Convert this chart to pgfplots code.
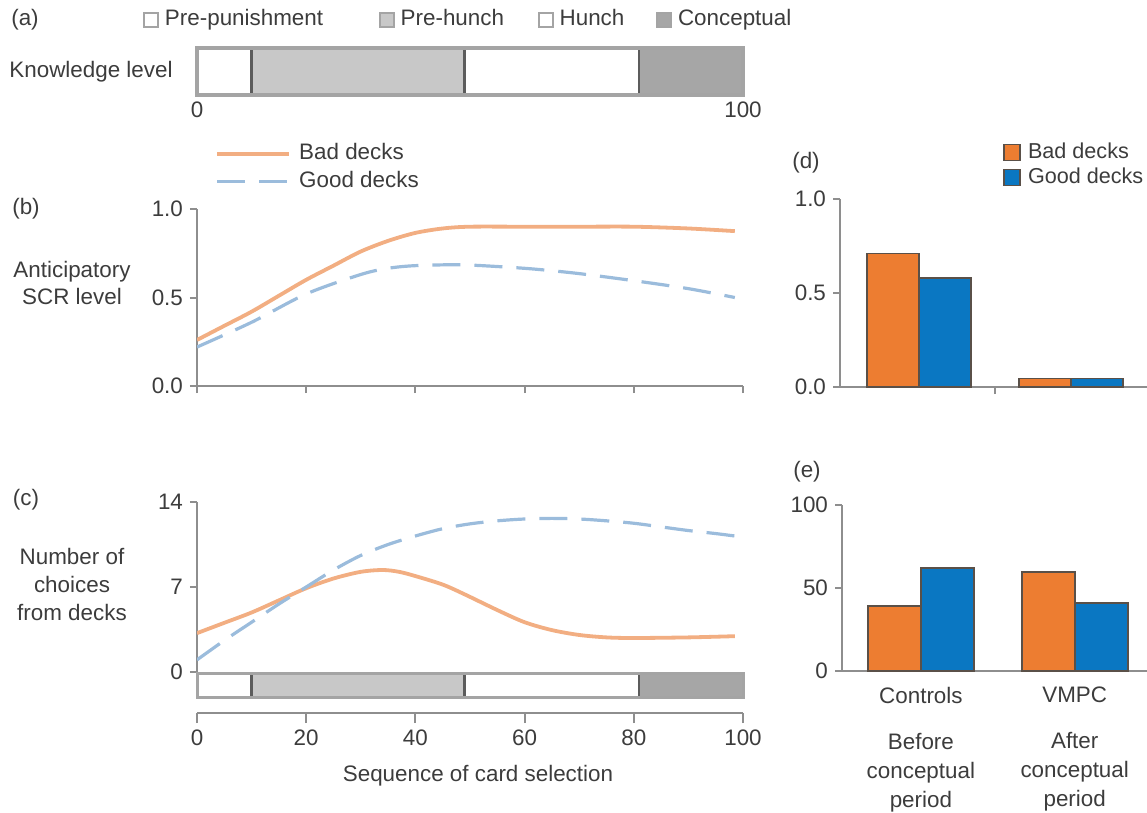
\documentclass[border=0pt]{standalone}
\usepackage{pgfplots}
\pgfplotsset{compat=1.18}
\usepackage{fontspec}
\setmainfont{Liberation Sans}
\definecolor{txt}{HTML}{3C3C3C}
\definecolor{axisgray}{HTML}{8E8E8E}
\definecolor{badline}{HTML}{F2AE82}
\definecolor{goodline}{HTML}{9BBCDC}
\definecolor{badbar}{HTML}{ED7D31}
\definecolor{goodbar}{HTML}{0A77C2}
\definecolor{baredge}{HTML}{5A5048}
\definecolor{klone}{HTML}{C8C8C8}
\definecolor{kltwo}{HTML}{A6A6A6}
\definecolor{klborder}{HTML}{A4A4A4}
\definecolor{kldiv}{HTML}{5C5C5C}
\newcommand\fs{\fontsize{11.2}{13.5}\selectfont}
\pgfplotsset{
  common/.style={scale only axis, font=\fs,
    /pgf/number format/assume math mode=true,
    tick label style={text=txt, font=\fs},
    label style={text=txt, font=\fs},
    axis line style={axisgray, line width=1pt},
    tick style={axisgray, line width=1pt},
    major tick length=3.5pt, tick align=outside},
  klbar/.style={scale only axis, xbar stacked, bar width=1,
    /pgf/number format/assume math mode=true,
    ymin=-0.5, ymax=0.5, xmin=0, xmax=100, axis on top,
    ytick=\empty, major tick length=0pt,
    tick label style={text=txt, font=\fs}},
  badstyle/.style={badline, line width=1.9pt, smooth},
  goodstyle/.style={goodline, line width=1.6pt, smooth, dash pattern=on 14pt off 7pt},
}
\begin{document}
\begin{tikzpicture}[x=0.5pt,y=-0.5pt]
\useasboundingbox (0,0) rectangle (1147,813);
\coordinate (a0) at (197,95);
\coordinate (b0) at (197,386);
\coordinate (c0) at (197,672);
\coordinate (k0) at (197,697);
\coordinate (x0) at (197,713);
\coordinate (d0) at (840,387);
\coordinate (e0) at (842,671);

% ---------- (a) knowledge level ----------
\begin{axis}[klbar, at={(a0)}, anchor=south west, width=273pt, height=23.5pt,
  axis line style={klborder, line width=2pt},
  xtick={0,100},
  legend columns=4,
  legend image code/.code={\draw[#1, line width=0.8pt, draw=klborder] (0pt,-3.5pt) rectangle (7pt,3.5pt);},
  legend style={at={(-0.0989,1.6)}, anchor=west, draw=none, fill=none, inner sep=0pt,
    font=\fs, text=txt, nodes={inner sep=0pt, text height=8.2pt, text depth=2.3pt},
    /tikz/column 1/.style={column sep=3pt},
    /tikz/column 2/.style={column sep=28pt},
    /tikz/column 3/.style={column sep=3pt},
    /tikz/column 4/.style={column sep=17pt},
    /tikz/column 5/.style={column sep=3pt},
    /tikz/column 6/.style={column sep=16pt},
    /tikz/column 7/.style={column sep=3pt}},
  ]
\addplot[fill=white, draw=kldiv, line width=1.2pt] coordinates {(10,0)};
\addplot[fill=klone, draw=kldiv, line width=1.2pt] coordinates {(39,0)};
\addplot[fill=white, draw=kldiv, line width=1.2pt] coordinates {(32,0)};
\addplot[fill=kltwo, draw=kldiv, line width=1.2pt] coordinates {(19,0)};
\legend{Pre-punishment, Pre-hunch, Hunch, Conceptual}
\end{axis}
\node[text=txt, font=\fs] at (25,20) {(a)};
\node[text=txt, font=\fs] at (91,72) {Knowledge level};

% ---------- (b) anticipatory SCR ----------
\begin{axis}[common, at={(b0)}, anchor=south west, width=273pt, height=88.5pt,
  xmin=0, xmax=100, ymin=0, ymax=1,
  axis x line*=bottom, axis y line*=left,
  xtick={0,20,40,60,80,100}, xticklabels={},
  ytick={0,0.5,1}, yticklabels={0.0,0.5,1.0},
  legend image code/.code={\draw[#1] (0pt,0pt) -- (36pt,0pt);},
  legend style={at={(0.033,1.373)}, anchor=north west, draw=none, fill=none, inner sep=0pt,
    font=\fs, text=txt, row sep=3.5pt, nodes={inner sep=0pt, text height=8.2pt, text depth=2.3pt},
    /tikz/column 1/.style={column sep=4pt}},
  legend cell align=left,
  ]
\addplot[badstyle] coordinates {(0,0.26) (5,0.34) (10,0.42) (15,0.51) (20,0.60) (25,0.68) (30,0.76) (35,0.82) (40,0.865) (45,0.89) (50,0.90) (60,0.90) (70,0.90) (80,0.90) (90,0.89) (98.5,0.875)};
\addplot[goodstyle] coordinates {(0,0.22) (10,0.36) (20,0.52) (30,0.63) (35,0.665) (40,0.68) (48,0.685) (55,0.675) (62,0.66) (70,0.635) (80,0.595) (90,0.55) (98.5,0.50)};
\legend{Bad decks, Good decks}
\end{axis}
\node[text=txt, font=\fs] at (26,209) {(b)};
\node[text=txt, font=\fontsize{11.2}{13.5}\selectfont, align=center] at (72,283) {Anticipatory\\SCR level};

% ---------- (c) number of choices ----------
\begin{axis}[common, at={(c0)}, anchor=south west, width=273pt, height=85pt,
  xmin=0, xmax=100, ymin=0, ymax=14,
  axis x line=none, axis y line*=left,
  ytick={0,7,14},
  ]
\addplot[badstyle] coordinates {(0,3.2) (5,4.05) (10,4.9) (15,5.9) (20,6.9) (25,7.7) (30,8.25) (34,8.4) (37,8.25) (40,7.9) (45,7.2) (49,6.4) (55,5.1) (60,4.1) (65,3.45) (70,3.05) (75,2.85) (80,2.8) (90,2.85) (98.5,2.95)};
\addplot[goodstyle] coordinates {(0,1.0) (5,2.6) (10,4.1) (15,5.6) (20,7.0) (25,8.4) (30,9.6) (35,10.5) (40,11.2) (45,11.8) (50,12.2) (55,12.45) (60,12.6) (65,12.65) (70,12.6) (75,12.45) (80,12.25) (85,11.95) (90,11.65) (95,11.4) (98.5,11.2)};
\end{axis}
\node[text=txt, font=\fs] at (26,500) {(c)};
\node[text=txt, font=\fontsize{11.2}{14}\selectfont, align=center] at (72,584) {Number of\\choices\\from decks};

% knowledge bar under (c)
\begin{axis}[klbar, at={(k0)}, anchor=south west, width=273pt, height=12pt,
  axis line style={klborder, line width=1.5pt},
  xtick=\empty]
\addplot[fill=white, draw=kldiv, line width=1.2pt] coordinates {(10,0)};
\addplot[fill=klone, draw=kldiv, line width=1.2pt] coordinates {(39,0)};
\addplot[fill=white, draw=kldiv, line width=1.2pt] coordinates {(32,0)};
\addplot[fill=kltwo, draw=kldiv, line width=1.2pt] coordinates {(19,0)};
\end{axis}

% x axis of (c)
\begin{axis}[common, at={(x0)}, anchor=south west, width=273pt, height=5pt,
  xmin=0, xmax=100, ymin=0, ymax=1,
  axis x line*=bottom, axis y line=none, ytick=\empty,
  xtick={0,20,40,60,80,100}, major tick length=5pt,
  xlabel={Sequence of card selection},
  xlabel style={yshift=-3pt, xshift=4pt}]
\addplot[draw=none] coordinates {(0,0)};
\end{axis}

% ---------- (d) ----------
\begin{axis}[common, at={(d0)}, anchor=south west, width=153.5pt, height=94pt,
  xmin=-0.02, xmax=2.0, ymin=0, ymax=1,
  ybar=0pt, bar width=26pt,
  axis x line*=bottom, axis y line*=left,
  xtick={1}, xticklabels={},
  ytick={0,0.5,1}, yticklabels={0.0,0.5,1.0},
  legend image code/.code={\draw[#1] (0pt,-4pt) rectangle (8pt,4pt);},
  legend style={at={(0.531,1.306)}, anchor=north west, draw=none, fill=none, inner sep=0pt,
    font=\fontsize{10.8}{13}\selectfont, text=txt, row sep=2pt, nodes={inner sep=0pt, text height=8.2pt, text depth=2.3pt},
    /tikz/column 1/.style={column sep=3.5pt}},
  legend cell align=left,
  ]
\addplot[fill=badbar, draw=baredge, line width=0.8pt] coordinates {(0.5,0.71) (1.5,0.045)};
\addplot[fill=goodbar, draw=baredge, line width=0.8pt] coordinates {(0.5,0.58) (1.5,0.045)};
\legend{Bad decks, Good decks}
\end{axis}
\node[text=txt, font=\fs] at (806,163) {(d)};

% ---------- (e) ----------
\begin{axis}[common, at={(e0)}, anchor=south west, width=152.5pt, height=83pt,
  xmin=-0.013, xmax=1.97, ymin=0, ymax=100,
  ybar=0pt, bar width=26.5pt,
  axis x line*=bottom, axis y line*=left,
  xtick={0.5,1.5},
  xticklabels={Controls\\[8.5pt]Before\\conceptual\\period, VMPC\\[8.5pt]After\\conceptual\\period},
  x tick label style={align=center, font=\fontsize{11.2}{14.5}\selectfont, yshift=-1pt},
  x tick style={draw=none},
  extra x ticks={1}, extra x tick labels={},
  extra x tick style={major tick length=4pt, tick style={axisgray, line width=1pt, draw=axisgray}},
  ytick={0,50,100},
  ]
\addplot[fill=badbar, draw=baredge, line width=0.8pt] coordinates {(0.5,39) (1.5,59.5)};
\addplot[fill=goodbar, draw=baredge, line width=0.8pt] coordinates {(0.5,62) (1.5,41)};
\end{axis}
\node[text=txt, font=\fs] at (807,472) {(e)};
\end{tikzpicture}
\end{document}
